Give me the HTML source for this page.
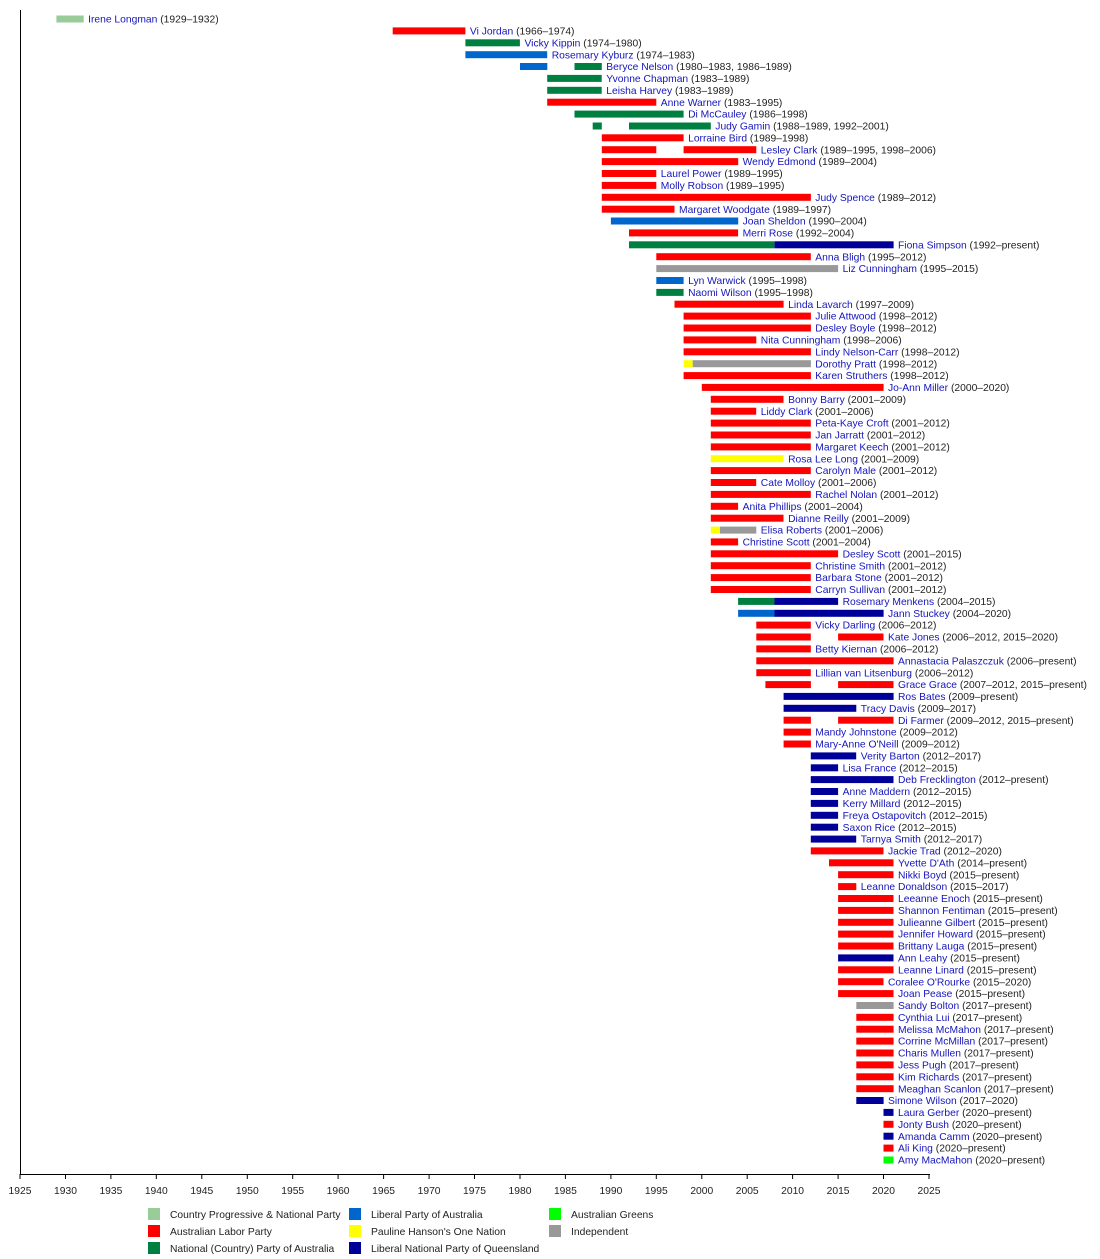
<!DOCTYPE html>
<html><head><meta charset="utf-8">
<style>
html,body{margin:0;padding:0;background:#fff;}
svg text{font-family:"Liberation Sans",Arial,sans-serif;}
</style></head>
<body>
<svg id="s" width="1100" height="1254" xmlns="http://www.w3.org/2000/svg">
<line x1="20.5" y1="10" x2="20.5" y2="1174" stroke="#000" stroke-width="1"/>
<line x1="20" y1="1174.5" x2="930" y2="1174.5" stroke="#000" stroke-width="1"/>
</svg>
<script>
var C={C:"#99cc99",L:"#ff0000",N:"#008040",B:"#0066cc",P:"#000099",O:"#ffff00",G:"#00ff00",I:"#999999"};
var P=2021.1;
var D=[
["Irene Longman","1929–1932",[[1929,1932,"C"]]],
["Vi Jordan","1966–1974",[[1966,1974,"L"]]],
["Vicky Kippin","1974–1980",[[1974,1980,"N"]]],
["Rosemary Kyburz","1974–1983",[[1974,1983,"B"]]],
["Beryce Nelson","1980–1983, 1986–1989",[[1980,1983,"B"],[1986,1989,"N"]]],
["Yvonne Chapman","1983–1989",[[1983,1989,"N"]]],
["Leisha Harvey","1983–1989",[[1983,1989,"N"]]],
["Anne Warner","1983–1995",[[1983,1995,"L"]]],
["Di McCauley","1986–1998",[[1986,1998,"N"]]],
["Judy Gamin","1988–1989, 1992–2001",[[1988,1989,"N"],[1992,2001,"N"]]],
["Lorraine Bird","1989–1998",[[1989,1998,"L"]]],
["Lesley Clark","1989–1995, 1998–2006",[[1989,1995,"L"],[1998,2006,"L"]]],
["Wendy Edmond","1989–2004",[[1989,2004,"L"]]],
["Laurel Power","1989–1995",[[1989,1995,"L"]]],
["Molly Robson","1989–1995",[[1989,1995,"L"]]],
["Judy Spence","1989–2012",[[1989,2012,"L"]]],
["Margaret Woodgate","1989–1997",[[1989,1997,"L"]]],
["Joan Sheldon","1990–2004",[[1990,2004,"B"]]],
["Merri Rose","1992–2004",[[1992,2004,"L"]]],
["Fiona Simpson","1992–present",[[1992,2008,"N"],[2008,P,"P"]]],
["Anna Bligh","1995–2012",[[1995,2012,"L"]]],
["Liz Cunningham","1995–2015",[[1995,2015,"I"]]],
["Lyn Warwick","1995–1998",[[1995,1998,"B"]]],
["Naomi Wilson","1995–1998",[[1995,1998,"N"]]],
["Linda Lavarch","1997–2009",[[1997,2009,"L"]]],
["Julie Attwood","1998–2012",[[1998,2012,"L"]]],
["Desley Boyle","1998–2012",[[1998,2012,"L"]]],
["Nita Cunningham","1998–2006",[[1998,2006,"L"]]],
["Lindy Nelson-Carr","1998–2012",[[1998,2012,"L"]]],
["Dorothy Pratt","1998–2012",[[1998,1999,"O"],[1999,2012,"I"]]],
["Karen Struthers","1998–2012",[[1998,2012,"L"]]],
["Jo-Ann Miller","2000–2020",[[2000,2020,"L"]]],
["Bonny Barry","2001–2009",[[2001,2009,"L"]]],
["Liddy Clark","2001–2006",[[2001,2006,"L"]]],
["Peta-Kaye Croft","2001–2012",[[2001,2012,"L"]]],
["Jan Jarratt","2001–2012",[[2001,2012,"L"]]],
["Margaret Keech","2001–2012",[[2001,2012,"L"]]],
["Rosa Lee Long","2001–2009",[[2001,2009,"O"]]],
["Carolyn Male","2001–2012",[[2001,2012,"L"]]],
["Cate Molloy","2001–2006",[[2001,2006,"L"]]],
["Rachel Nolan","2001–2012",[[2001,2012,"L"]]],
["Anita Phillips","2001–2004",[[2001,2004,"L"]]],
["Dianne Reilly","2001–2009",[[2001,2009,"L"]]],
["Elisa Roberts","2001–2006",[[2001,2002,"O"],[2002,2006,"I"]]],
["Christine Scott","2001–2004",[[2001,2004,"L"]]],
["Desley Scott","2001–2015",[[2001,2015,"L"]]],
["Christine Smith","2001–2012",[[2001,2012,"L"]]],
["Barbara Stone","2001–2012",[[2001,2012,"L"]]],
["Carryn Sullivan","2001–2012",[[2001,2012,"L"]]],
["Rosemary Menkens","2004–2015",[[2004,2008,"N"],[2008,2015,"P"]]],
["Jann Stuckey","2004–2020",[[2004,2008,"B"],[2008,2020,"P"]]],
["Vicky Darling","2006–2012",[[2006,2012,"L"]]],
["Kate Jones","2006–2012, 2015–2020",[[2006,2012,"L"],[2015,2020,"L"]]],
["Betty Kiernan","2006–2012",[[2006,2012,"L"]]],
["Annastacia Palaszczuk","2006–present",[[2006,P,"L"]]],
["Lillian van Litsenburg","2006–2012",[[2006,2012,"L"]]],
["Grace Grace","2007–2012, 2015–present",[[2007,2012,"L"],[2015,P,"L"]]],
["Ros Bates","2009–present",[[2009,P,"P"]]],
["Tracy Davis","2009–2017",[[2009,2017,"P"]]],
["Di Farmer","2009–2012, 2015–present",[[2009,2012,"L"],[2015,P,"L"]]],
["Mandy Johnstone","2009–2012",[[2009,2012,"L"]]],
["Mary-Anne O'Neill","2009–2012",[[2009,2012,"L"]]],
["Verity Barton","2012–2017",[[2012,2017,"P"]]],
["Lisa France","2012–2015",[[2012,2015,"P"]]],
["Deb Frecklington","2012–present",[[2012,P,"P"]]],
["Anne Maddern","2012–2015",[[2012,2015,"P"]]],
["Kerry Millard","2012–2015",[[2012,2015,"P"]]],
["Freya Ostapovitch","2012–2015",[[2012,2015,"P"]]],
["Saxon Rice","2012–2015",[[2012,2015,"P"]]],
["Tarnya Smith","2012–2017",[[2012,2017,"P"]]],
["Jackie Trad","2012–2020",[[2012,2020,"L"]]],
["Yvette D'Ath","2014–present",[[2014,P,"L"]]],
["Nikki Boyd","2015–present",[[2015,P,"L"]]],
["Leanne Donaldson","2015–2017",[[2015,2017,"L"]]],
["Leeanne Enoch","2015–present",[[2015,P,"L"]]],
["Shannon Fentiman","2015–present",[[2015,P,"L"]]],
["Julieanne Gilbert","2015–present",[[2015,P,"L"]]],
["Jennifer Howard","2015–present",[[2015,P,"L"]]],
["Brittany Lauga","2015–present",[[2015,P,"L"]]],
["Ann Leahy","2015–present",[[2015,P,"P"]]],
["Leanne Linard","2015–present",[[2015,P,"L"]]],
["Coralee O'Rourke","2015–2020",[[2015,2020,"L"]]],
["Joan Pease","2015–present",[[2015,P,"L"]]],
["Sandy Bolton","2017–present",[[2017,P,"I"]]],
["Cynthia Lui","2017–present",[[2017,P,"L"]]],
["Melissa McMahon","2017–present",[[2017,P,"L"]]],
["Corrine McMillan","2017–present",[[2017,P,"L"]]],
["Charis Mullen","2017–present",[[2017,P,"L"]]],
["Jess Pugh","2017–present",[[2017,P,"L"]]],
["Kim Richards","2017–present",[[2017,P,"L"]]],
["Meaghan Scanlon","2017–present",[[2017,P,"L"]]],
["Simone Wilson","2017–2020",[[2017,2020,"P"]]],
["Laura Gerber","2020–present",[[2020,P,"P"]]],
["Jonty Bush","2020–present",[[2020,P,"L"]]],
["Amanda Camm","2020–present",[[2020,P,"P"]]],
["Ali King","2020–present",[[2020,P,"L"]]],
["Amy MacMahon","2020–present",[[2020,P,"G"]]]
];
function X(y){return 20+(y-1925)*9.09;}
var h="";
for(var i=0;i<D.length;i++){
 var d=D[i],cy=19+i*11.885,end=0;
 for(var j=0;j<d[2].length;j++){var s=d[2][j];var x1=X(s[0]),x2=X(s[1]);end=x2;
  h+='<rect x="'+x1.toFixed(1)+'" y="'+(cy-3.5).toFixed(1)+'" width="'+(x2-x1).toFixed(1)+'" height="7" fill="'+C[s[2]]+'"/>';}
 h+='<text x="'+(end+4.5).toFixed(1)+'" y="'+(cy+3.6).toFixed(1)+'" font-size="10.3"><tspan fill="#1515bb">'+d[0].replace("'","&#39;")+'</tspan><tspan fill="#222"> ('+d[1]+')</tspan></text>';
}
for(var y=1925;y<=2025;y+=5){var x=X(y);
 h+='<line x1="'+x.toFixed(1)+'" y1="1174" x2="'+x.toFixed(1)+'" y2="1179" stroke="#000"/>';
 h+='<text x="'+x.toFixed(1)+'" y="1194" font-size="10.3" text-anchor="middle" fill="#222">'+y+'</text>';}
var L=[[148,1214,"C","Country Progressive &amp; National Party"],[148,1231,"L","Australian Labor Party"],[148,1248,"N","National (Country) Party of Australia"],
[349,1214,"B","Liberal Party of Australia"],[349,1231,"O","Pauline Hanson's One Nation"],[349,1248,"P","Liberal National Party of Queensland"],
[549,1214,"G","Australian Greens"],[549,1231,"I","Independent"]];
for(var k=0;k<L.length;k++){var l=L[k];
 h+='<rect x="'+l[0]+'" y="'+(l[1]-6)+'" width="12" height="12" fill="'+C[l[2]]+'"/>';
 h+='<text x="'+(l[0]+22)+'" y="'+(l[1]+4)+'" font-size="10.3" fill="#222">'+l[3]+'</text>';}
document.getElementById("s").insertAdjacentHTML("beforeend",h);
</script>
</body></html>
